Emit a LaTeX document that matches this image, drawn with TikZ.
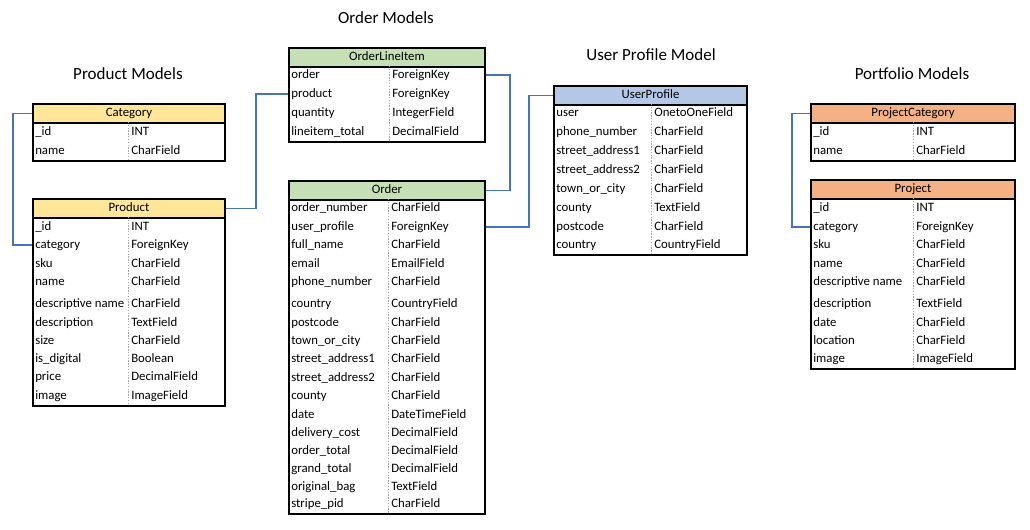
\documentclass[tikz,border=0pt]{standalone}
\usepackage{fontspec}
\setmainfont{Carlito}
\usetikzlibrary{positioning, calc}

\definecolor{prodhead}{HTML}{FFE699}
\definecolor{ordhead}{HTML}{C5E0B4}
\definecolor{userhead}{HTML}{B4C7E7}
\definecolor{projhead}{HTML}{F4B183}
\definecolor{fkblue}{HTML}{4472C4}

\begin{document}
\begin{tikzpicture}[x=0.025cm, y=-0.025cm]
\def\u{0.025cm}
\tikzset{table/.style={
    rectangle, draw=black, line width=1.4pt, anchor=north west, inner sep=0pt},
    head/.style={
    rectangle, draw=black, line width=1.4pt, anchor=north west, inner sep=0pt, minimum height=19*\u,
    font=\fontsize{9.1}{11}\selectfont, text height=6.6pt, text depth=1.9pt},
    field/.style={anchor=west, inner sep=0pt, font=\fontsize{9.1}{11}\selectfont, text height=6.6pt, text depth=1.9pt},
    divline/.style={gray!70, line width=0.5pt, dash pattern=on 1pt off 1pt},
    fk/.style={fkblue, line width=0.8pt},
    grouptitle/.style={font=\fontsize{12.1}{14}\selectfont}
}

    \useasboundingbox (0,0) rectangle (1030,529);

    % Product models
    \node[grouptitle] (prodtitle) at (128,74) {Product Models};

    \node[head, fill=prodhead, minimum width=192*\u] (cat-hdr) at (32,103) {Category};
    \node[table, minimum width=192*\u, minimum height=57*\u] (category) at (32,103) {};
    \draw[divline] (128,122) -- (128,160);
    \foreach \y/\name/\type [count=\i] in {132/\_id/INT, 151/name/CharField} {
        \node[field] (cat-\i) at (35,\y) {\name};
        \node[field] (cat-t\i) at (131,\y) {\type};
    }

    \node[head, fill=prodhead, minimum width=192*\u] (prod-hdr) at (32,198) {Product};
    \node[table, minimum width=192*\u, minimum height=207*\u] (product) at (32,198) {};
    \draw[divline] (128,217) -- (128,405);
    \foreach \y/\name/\type [count=\i] in {227/\_id/INT, 245/category/ForeignKey, 264/sku/CharField,
        282/name/CharField, 304/descriptive name/CharField, 323/description/TextField, 341/size/CharField,
        359/is\_digital/Boolean, 377/price/DecimalField, 396/image/ImageField} {
        \node[field] (prod-\i) at (35,\y) {\name};
        \node[field] (prod-t\i) at (131,\y) {\type};
    }

    % Order models
    \node[grouptitle] (ordtitle) at (386,18) {Order Models};

    \node[head, fill=ordhead, minimum width=196*\u] (oli-hdr) at (288,47) {OrderLineItem};
    \node[table, minimum width=196*\u, minimum height=94*\u] (lineitem) at (288,47) {};
    \draw[divline] (389,66) -- (389,141);
    \foreach \y/\name/\type [count=\i] in {75/order/ForeignKey, 94/product/ForeignKey,
        113/quantity/IntegerField, 132/lineitem\_total/DecimalField} {
        \node[field] (oli-\i) at (291,\y) {\name};
        \node[field] (oli-t\i) at (392,\y) {\type};
    }

    \node[head, fill=ordhead, minimum width=196*\u] (ord-hdr) at (288,180) {Order};
    \node[table, minimum width=196*\u, minimum height=333*\u] (order) at (288,180) {};
    \draw[divline] (388,199) -- (388,513);
    \foreach \y/\name/\type [count=\i] in {208/order\_number/CharField, 227/user\_profile/ForeignKey,
        245/full\_name/CharField, 264/email/EmailField, 282/phone\_number/CharField, 304/country/CountryField,
        323/postcode/CharField, 341/town\_or\_city/CharField, 359/street\_address1/CharField,
        378/street\_address2/CharField, 396/county/CharField, 415/date/DateTimeField,
        433/delivery\_cost/DecimalField, 451/order\_total/DecimalField, 469/grand\_total/DecimalField,
        487/original\_bag/TextField, 504/stripe\_pid/CharField} {
        \node[field] (ord-\i) at (291,\y) {\name};
        \node[field] (ord-t\i) at (391,\y) {\type};
    }

    % User profile
    \node[grouptitle] (usertitle) at (651,55) {User Profile Model};

    \node[head, fill=userhead, minimum width=193*\u] (up-hdr) at (553,85) {UserProfile};
    \node[table, minimum width=193*\u, minimum height=169*\u] (userprofile) at (553,85) {};
    \draw[divline] (651,104) -- (651,254);
    \foreach \y/\name/\type [count=\i] in {113/user/OnetoOneField, 132/phone\_number/CharField,
        151/street\_address1/CharField, 170/street\_address2/CharField, 189/town\_or\_city/CharField,
        208/county/TextField, 227/postcode/CharField, 245/country/CountryField} {
        \node[field] (up-\i) at (556,\y) {\name};
        \node[field] (up-t\i) at (654,\y) {\type};
    }

    % Portfolio models
    \node[grouptitle] (portitle) at (912,74) {Portfolio Models};

    \node[head, fill=projhead, minimum width=204*\u] (pcat-hdr) at (810,103) {ProjectCategory};
    \node[table, minimum width=204*\u, minimum height=57*\u] (projcategory) at (810,103) {};
    \draw[divline] (913,122) -- (913,160);
    \foreach \y/\name/\type [count=\i] in {132/\_id/INT, 151/name/CharField} {
        \node[field] (pcat-\i) at (813,\y) {\name};
        \node[field] (pcat-t\i) at (916,\y) {\type};
    }

    \node[head, fill=projhead, minimum width=204*\u] (proj-hdr) at (810,179) {Project};
    \node[table, minimum width=204*\u, minimum height=189*\u] (project) at (810,179) {};
    \draw[divline] (913,198) -- (913,368);
    \foreach \y/\name/\type [count=\i] in {208/\_id/INT, 227/category/ForeignKey, 245/sku/CharField,
        264/name/CharField, 282/descriptive name/CharField, 304/description/TextField,
        323/date/CharField, 341/location/CharField, 359/image/ImageField} {
        \node[field] (proj-\i) at (813,\y) {\name};
        \node[field] (proj-t\i) at (916,\y) {\type};
    }

    % foreign keys
    \draw[fk] (cat-hdr.west) -- ++(-19,0) |- (product.west |- prod-2);
    \draw[fk] (lineitem.west |- oli-2) -- ++(-32,0) |- (prod-hdr.east);
    \draw[fk] (lineitem.east |- oli-1) -- ++(24,0) |- (ord-hdr.east);
    \draw[fk] (order.east |- ord-2) -- ++(43,0) |- (up-hdr.west);
    \draw[fk] (pcat-hdr.west) -- ++(-18,0) |- (project.west |- proj-2);

\end{tikzpicture}
\end{document}
